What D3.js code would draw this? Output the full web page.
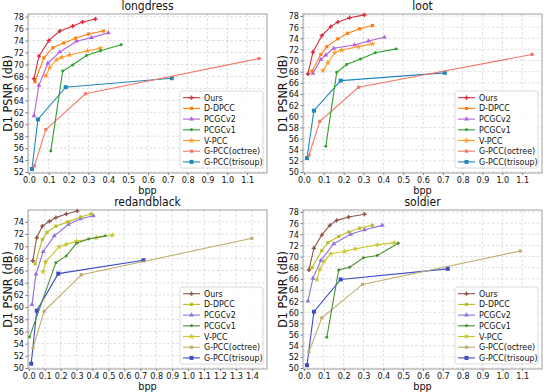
<!DOCTYPE html>
<html>
<head>
<meta charset="utf-8">
<script src="https://cdn.jsdelivr.net/npm/d3@7"></script>
<style>
  body { margin: 0; background: #fff; }
  text { font-family: "DejaVu Sans Condensed", "DejaVu Sans", sans-serif; fill: #111; }
</style>
</head>
<body>
<svg id="chart"></svg>
<script>
// Data
var methods = ["Ours", "D-DPCC", "PCGCv2", "PCGCv1", "V-PCC", "G-PCC(octree)", "G-PCC(trisoup)"];
var titles = ["longdress", "loot", "redandblack", "soldier"];

var longdressBpp = [
  [0.025, 0.05, 0.1, 0.155, 0.22, 0.27, 0.335],
  [0.03, 0.075, 0.12, 0.175, 0.235, 0.3, 0.375],
  [0.025, 0.05, 0.095, 0.155, 0.24, 0.315, 0.4],
  [0.11, 0.17, 0.22, 0.29, 0.36, 0.465],
  [0.085, 0.105, 0.14, 0.165, 0.205, 0.295, 0.36],
  [0.027, 0.085, 0.285, 1.16],
  [0.015, 0.045, 0.185, 0.72]
];
var longdressPsnr = [
  [67.6, 71.4, 74.0, 75.6, 76.4, 77.1, 77.6],
  [67.1, 71.1, 72.8, 73.6, 74.4, 75.1, 75.6],
  [61.4, 66.5, 70.2, 72.1, 73.9, 74.5, 75.3],
  [55.5, 68.9, 69.9, 71.5, 72.3, 73.3],
  [68.1, 69.5, 70.8, 71.2, 71.6, 72.3, 72.7],
  [53.0, 59.1, 65.1, 71.0],
  [52.5, 60.8, 66.2, 67.7]
];

var lootBpp = [
  [0.02, 0.045, 0.09, 0.135, 0.17, 0.23, 0.305],
  [0.04, 0.085, 0.115, 0.17, 0.22, 0.28, 0.345],
  [0.045, 0.085, 0.11, 0.15, 0.255, 0.325, 0.405],
  [0.11, 0.165, 0.215, 0.285, 0.36, 0.465],
  [0.095, 0.12, 0.155, 0.19, 0.275, 0.345],
  [0.025, 0.08, 0.275, 1.15],
  [0.015, 0.05, 0.185, 0.71]
];
var lootPsnr = [
  [67.6, 71.5, 74.5, 76.1, 76.9, 77.7, 78.2],
  [68.1, 71.1, 72.5, 73.9, 74.9, 75.7, 76.3],
  [67.7, 70.2, 71.0, 72.2, 72.8, 73.5, 74.2],
  [54.6, 67.9, 69.3, 70.3, 71.4, 72.1],
  [68.2, 69.6, 71.4, 71.9, 72.5, 73.0],
  [53.0, 59.1, 65.2, 71.1],
  [52.5, 61.0, 66.4, 67.8]
];

var redandblackBpp = [
  [0.025, 0.05, 0.085, 0.13, 0.17, 0.235, 0.305],
  [0.04, 0.085, 0.115, 0.17, 0.245, 0.325, 0.39],
  [0.02, 0.045, 0.09, 0.16, 0.25, 0.325, 0.405],
  [0.005, 0.17, 0.235, 0.3, 0.375, 0.48],
  [0.09, 0.105, 0.19, 0.235, 0.3, 0.425, 0.525],
  [0.027, 0.096, 0.33, 1.4],
  [0.015, 0.05, 0.185, 0.72]
];
var redandblackPsnr = [
  [67.6, 71.4, 73.3, 74.1, 74.7, 75.3, 75.8],
  [67.1, 71.1, 72.3, 73.3, 74.0, 74.8, 75.3],
  [60.4, 65.4, 69.1, 71.7, 73.6, 74.5, 75.0],
  [55.1, 67.3, 68.4, 70.5, 71.2, 71.7],
  [65.8, 67.4, 69.9, 70.3, 70.8, 71.4, 71.8],
  [53.3, 59.3, 65.3, 71.3],
  [50.7, 59.4, 65.5, 67.7]
];

var soldierBpp = [
  [0.025, 0.05, 0.09, 0.13, 0.165, 0.225, 0.305],
  [0.04, 0.09, 0.12, 0.175, 0.225, 0.28, 0.345],
  [0.02, 0.045, 0.085, 0.15, 0.235, 0.305, 0.395],
  [0.115, 0.175, 0.23, 0.3, 0.37, 0.475],
  [0.065, 0.08, 0.1, 0.135, 0.205, 0.26, 0.37, 0.455],
  [0.025, 0.09, 0.295, 1.09],
  [0.015, 0.05, 0.185, 0.725]
];
var soldierPsnr = [
  [67.6, 71.5, 73.9, 75.6, 76.5, 77.1, 77.6],
  [68.0, 71.1, 72.5, 73.6, 74.4, 75.1, 75.6],
  [62.0, 66.1, 69.3, 72.3, 74.0, 74.8, 75.6],
  [55.5, 67.6, 68.1, 69.8, 70.2, 72.4],
  [65.9, 67.7, 69.1, 70.5, 70.9, 71.4, 72.1, 72.5],
  [52.9, 59.0, 65.0, 71.0],
  [50.5, 60.1, 65.9, 67.8]
];

var ticks11 = [0, 0.1, 0.2, 0.3, 0.4, 0.5, 0.6, 0.7, 0.8, 0.9, 1.0, 1.1];
var ticks14 = [0, 0.1, 0.2, 0.3, 0.4, 0.5, 0.6, 0.7, 0.8, 0.9, 1.0, 1.1, 1.2, 1.3, 1.4];

// colours: top row and bottom row use different palettes
var topColors = ["#dc2a3c", "#ff7f0e", "#b360d8", "#2ca02c", "#ff9a2a", "#f07a68", "#2187bb"];
var bottomColors = ["#8c564b", "#bcbd22", "#9370db", "#4b8f32", "#c9c62e", "#bfad70", "#3d4cc4"];
var markerTypes = [d3.symbolCross, d3.symbolSquare, d3.symbolTriangle, d3.symbolCircle, d3.symbolStar, d3.symbolSquare, d3.symbolSquare];
var markerSizes = [10, 10, 10, 7, 12, 10, 16];

// Layout
var svgWidth = 550, svgHeight = 392,
    plotW = 239, plotH = 159;

var svg = d3.select("#chart")
  .attr("width", svgWidth)
  .attr("height", svgHeight);

var panels = [
  { bpp: longdressBpp, psnr: longdressPsnr, colors: topColors, col: 0, row: 0,
    xDomain: [-0.005, 1.2], xTicks: ticks11, yDomain: [51.83, 78.45], yTicks: d3.range(52, 79, 2) },
  { bpp: lootBpp, psnr: lootPsnr, colors: topColors, col: 1, row: 0,
    xDomain: [-0.005, 1.2], xTicks: ticks11, yDomain: [49.82, 78.36], yTicks: d3.range(50, 79, 2) },
  { bpp: redandblackBpp, psnr: redandblackPsnr, colors: bottomColors, col: 0, row: 1,
    xDomain: [-0.005, 1.495], xTicks: ticks14, yDomain: [49.83, 75.95], yTicks: d3.range(50, 75, 2) },
  { bpp: soldierBpp, psnr: soldierPsnr, colors: bottomColors, col: 1, row: 1,
    xDomain: [-0.005, 1.2], xTicks: ticks11, yDomain: [49.82, 78.36], yTicks: d3.range(50, 79, 2) }
];

panels.forEach(function (p, i) { drawPanel(p, titles[i]); });

function drawPanel(p, title) {
  var left = 28 + p.col * 275,
      top = p.row ? 210 : 14;

  var x = d3.scaleLinear().domain(p.xDomain).range([0, plotW]);
  var y = d3.scaleLinear().domain(p.yDomain).range([plotH, 0]);

  var g = svg.append("g")
    .attr("transform", "translate(" + [left, top] + ")");

  // dashed grid
  var grid = g.append("g").attr("class", "grid");
  grid.selectAll(".gx").data(p.xTicks).enter().append("line")
    .attr("x1", function (d) { return x(d); })
    .attr("x2", function (d) { return x(d); })
    .attr("y1", 0).attr("y2", plotH);
  grid.selectAll(".gy").data(p.yTicks).enter().append("line")
    .attr("y1", function (d) { return y(d); })
    .attr("y2", function (d) { return y(d); })
    .attr("x1", 0).attr("x2", plotW);
  grid.selectAll("line")
    .attr("stroke", "#cfcfcf")
    .attr("stroke-width", 0.7)
    .attr("stroke-dasharray", "2.5,2");

  // axes
  var xAxis = g.append("g")
    .attr("transform", "translate(0," + plotH + ")")
    .call(d3.axisBottom(x).tickValues(p.xTicks).tickFormat(d3.format(".1f")).tickSize(2).tickPadding(1.2));
  var yAxis = g.append("g")
    .call(d3.axisLeft(y).tickValues(p.yTicks).tickFormat(d3.format("d")).tickSize(2.5).tickPadding(1.5));
  [xAxis, yAxis].forEach(function (a) {
    a.select(".domain").remove();
    a.selectAll(".tick line").attr("stroke", "#444").attr("stroke-width", 0.7);
    a.selectAll(".tick text")
      .attr("font-family", "DejaVu Sans Condensed, DejaVu Sans")
      .attr("font-size", 9)
      .attr("fill", "#111");
  });

  // frame
  g.append("rect")
    .attr("width", plotW).attr("height", plotH)
    .attr("fill", "none")
    .attr("stroke", "#888")
    .attr("stroke-width", 0.8);

  // series
  var line = d3.line()
    .x(function (d) { return x(d[0]); })
    .y(function (d) { return y(d[1]); });

  var series = methods.map(function (m, k) {
    return p.bpp[k].map(function (b, j) { return [b, p.psnr[k][j]]; });
  });

  // draw back to front so "Ours" ends on top
  for (var k = methods.length - 1; k >= 0; k--) {
    var sg = g.append("g");
    sg.append("path")
      .datum(series[k])
      .attr("fill", "none")
      .attr("stroke", p.colors[k])
      .attr("stroke-width", 1.1)
      .attr("d", line);
    sg.selectAll("path.mk")
      .data(series[k])
      .enter().append("path")
      .attr("class", "mk")
      .attr("transform", function (d) { return "translate(" + [x(d[0]), y(d[1])] + ")"; })
      .attr("d", d3.symbol().type(markerTypes[k]).size(markerSizes[k]))
      .attr("fill", p.colors[k]);
  }

  // title and labels
  g.append("text")
    .attr("x", plotW / 2).attr("y", -4)
    .attr("text-anchor", "middle")
    .attr("font-size", 12)
    .text(title);
  g.append("text")
    .attr("x", plotW / 2).attr("y", plotH + 20.5)
    .attr("text-anchor", "middle")
    .attr("font-size", 10.8)
    .text("bpp");
  g.append("text")
    .attr("transform", "translate(" + [-16.5, plotH / 2] + ") rotate(-90)")
    .attr("text-anchor", "middle")
    .attr("font-size", 12.5)
    .text("D1 PSNR (dB)");

  // legend
  var lgW = 83, lgH = 77, lgX = plotW - lgW - 4, lgY = plotH - lgH - 5;
  var lg = g.append("g").attr("transform", "translate(" + [lgX, lgY] + ")");
  lg.append("rect")
    .attr("width", lgW).attr("height", lgH)
    .attr("rx", 2)
    .attr("fill", "#fff").attr("fill-opacity", 0.85)
    .attr("stroke", "#d0d0d0").attr("stroke-width", 0.8);
  var items = lg.selectAll(".item").data(methods).enter().append("g")
    .attr("transform", function (d, k) { return "translate(0," + (6.7 + k * 10.7) + ")"; });
  items.append("line")
    .attr("x1", 3).attr("x2", 20)
    .attr("stroke", function (d, k) { return p.colors[k]; })
    .attr("stroke-width", 1.1);
  items.append("path")
    .attr("transform", "translate(11.5,0)")
    .attr("d", function (d, k) { return d3.symbol().type(markerTypes[k]).size(markerSizes[k])(); })
    .attr("fill", function (d, k) { return p.colors[k]; });
  items.append("text")
    .attr("x", 24).attr("dy", "0.35em")
    .attr("font-size", 8.8)
    .text(function (d) { return d; });
}
</script>
</body>
</html>
